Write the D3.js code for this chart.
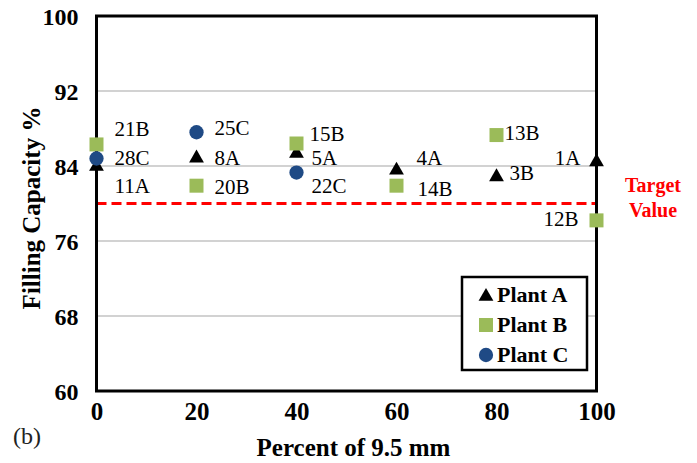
<!DOCTYPE html>
<html>
<head>
<meta charset="utf-8">
<script src="https://cdn.jsdelivr.net/npm/d3@7"></script>
<style>
  html, body { margin: 0; padding: 0; background: #fff; }
  svg { display: block; }
  text { font-family: "Liberation Serif", "Times New Roman", serif; }
</style>
</head>
<body>
<div id="chart"></div>
<script>
// Percent of 9.5 mm aggregate in each blend
const xValues = [0, 20, 40, 60, 80, 100];

// Filling capacity (%) per plant
const plantA = [84.1, 85.0, 85.5, 83.7, 83.0, 84.6];
const plantALabels = ["11A", "8A", "5A", "4A", "3B", "1A"];

const plantB = [86.3, 81.9, 86.4, 81.9, 87.3, 78.2];
const plantBLabels = ["21B", "20B", "15B", "14B", "13B", "12B"];

const plantCx = [0, 20, 40];
const plantC = [84.8, 87.6, 83.3];
const plantCLabels = ["28C", "25C", "22C"];

const targetValue = 80;

const yTicks = [60, 68, 76, 84, 92, 100];
const xTicks = [0, 20, 40, 60, 80, 100];
const seriesNames = ["Plant A", "Plant B", "Plant C"];

// Label placement around each marker: [dx, dy, anchor]
const labelOffsetsA = [[18, 28, "start"], [18, 8, "start"], [15, 13, "start"], [20, -4, "start"], [13, 5, "start"], [-16, 5, "end"]];
const labelOffsetsB = [[18, -8, "start"], [18, 8, "start"], [13, -3, "start"], [21, 10, "start"], [8, 5, "start"], [-18, 6, "end"]];
const labelOffsetsC = [[18, 6, "start"], [18, 3, "start"], [15, 20, "start"]];

const W = 697, H = 463;
const plot = { left: 96.5, right: 596.5, top: 16, bottom: 391 };

const colors = { A: "#000000", B: "#9BBB59", C: "#1F4A85" };

const svg = d3.select("#chart").append("svg")
  .attr("width", W).attr("height", H);

const x = d3.scaleLinear().domain([0, 100]).range([plot.left, plot.right]);
const y = d3.scaleLinear().domain([60, 100]).range([plot.bottom, plot.top]);

// Horizontal gridlines
svg.append("g")
  .selectAll("line")
  .data(yTicks.filter(d => d > 60 && d < 100))
  .join("line")
  .attr("x1", plot.left).attr("x2", plot.right)
  .attr("y1", d => y(d)).attr("y2", d => y(d))
  .attr("stroke", "#a6a6a6").attr("stroke-width", 1.2);

// Y axis tick labels
const yAxis = d3.axisLeft(y).tickValues(yTicks).tickSize(0).tickPadding(18);
const gy = svg.append("g").attr("transform", `translate(${plot.left},0)`).call(yAxis);
gy.select(".domain").remove();
gy.selectAll("text")
  .attr("font-family", "Liberation Serif")
  .attr("font-size", 24).attr("font-weight", "bold").attr("fill", "#000")
  .attr("dy", "0.34em");

// X axis tick labels
const xAxis = d3.axisBottom(x).tickValues(xTicks).tickSize(0).tickPadding(11);
const gx = svg.append("g").attr("transform", `translate(0,${plot.bottom})`).call(xAxis);
gx.select(".domain").remove();
gx.selectAll("text")
  .attr("font-family", "Liberation Serif")
  .attr("font-size", 25).attr("font-weight", "bold").attr("fill", "#000");

// Target line
svg.append("line")
  .attr("x1", x(0)).attr("x2", x(100))
  .attr("y1", y(targetValue)).attr("y2", y(targetValue))
  .attr("stroke", "#ff0000").attr("stroke-width", 3)
  .attr("stroke-dasharray", "10,5");

svg.append("text")
  .attr("x", 653).attr("y", 192)
  .attr("text-anchor", "middle")
  .attr("font-size", 20).attr("font-weight", "bold").attr("fill", "#ff0000")
  .text("Target");
svg.append("text")
  .attr("x", 653).attr("y", 217)
  .attr("text-anchor", "middle")
  .attr("font-size", 20).attr("font-weight", "bold").attr("fill", "#ff0000")
  .text("Value");

// Marker shapes
const triangle = d3.symbol().type(d3.symbolTriangle).size(95);
const square = d3.symbol().type(d3.symbolSquare).size(196);
const circle = d3.symbol().type(d3.symbolCircle).size(160);

const seriesA = xValues.map((v, i) => ({ x: v, y: plantA[i], label: plantALabels[i], off: labelOffsetsA[i] }));
const seriesB = xValues.map((v, i) => ({ x: v, y: plantB[i], label: plantBLabels[i], off: labelOffsetsB[i] }));
const seriesC = plantCx.map((v, i) => ({ x: v, y: plantC[i], label: plantCLabels[i], off: labelOffsetsC[i] }));

function drawSeries(data, sym, color, yShift) {
  svg.append("g")
    .selectAll("path")
    .data(data)
    .join("path")
    .attr("d", sym)
    .attr("transform", d => `translate(${x(d.x)},${y(d.y) + (yShift || 0)})`)
    .attr("fill", color);
}

function drawLabels(data) {
  svg.append("g")
    .selectAll("text")
    .data(data)
    .join("text")
    .attr("x", d => x(d.x) + d.off[0])
    .attr("y", d => y(d.y) + d.off[1])
    .attr("text-anchor", d => d.off[2])
    .attr("font-size", 21).attr("fill", "#000")
    .text(d => d.label);
}

// Plot border (drawn before markers so edge markers sit on top)
svg.append("rect")
  .attr("x", plot.left).attr("y", plot.top)
  .attr("width", plot.right - plot.left).attr("height", plot.bottom - plot.top)
  .attr("fill", "none").attr("stroke", "#000").attr("stroke-width", 3);

drawSeries(seriesA, triangle, colors.A, 1.5);
drawSeries(seriesB, square, colors.B);
drawSeries(seriesC, circle, colors.C);
drawLabels(seriesA);
drawLabels(seriesB);
drawLabels(seriesC);

// Legend
const legend = svg.append("g");
legend.append("rect")
  .attr("x", 462).attr("y", 277).attr("width", 125).attr("height", 93)
  .attr("fill", "#fff").attr("stroke", "#000").attr("stroke-width", 2.5);

const legendSyms = [triangle, square, circle];
const legendColors = [colors.A, colors.B, colors.C];
seriesNames.forEach((name, i) => {
  const cy = 295 + i * 30;
  legend.append("path")
    .attr("d", legendSyms[i])
    .attr("transform", `translate(486,${cy + (i === 0 ? 1.5 : 0)})`)
    .attr("fill", legendColors[i]);
  legend.append("text")
    .attr("x", 497).attr("y", cy + 7)
    .attr("font-size", 22).attr("font-weight", "bold").attr("fill", "#000")
    .text(name);
});

// Axis titles
svg.append("text")
  .attr("x", (plot.left + plot.right) / 2 + 7).attr("y", 456)
  .attr("text-anchor", "middle")
  .attr("font-size", 25).attr("font-weight", "bold").attr("fill", "#000")
  .text("Percent of 9.5 mm");

svg.append("text")
  .attr("transform", "translate(40,208) rotate(-90)")
  .attr("text-anchor", "middle")
  .attr("font-size", 25).attr("font-weight", "bold").attr("fill", "#000")
  .text("Filling Capacity %");

// Panel tag
svg.append("text")
  .attr("x", 13).attr("y", 444)
  .attr("font-family", "Liberation Sans")
  .attr("font-size", 24).attr("fill", "#222")
  .text("(b)");
</script>
</body>
</html>
